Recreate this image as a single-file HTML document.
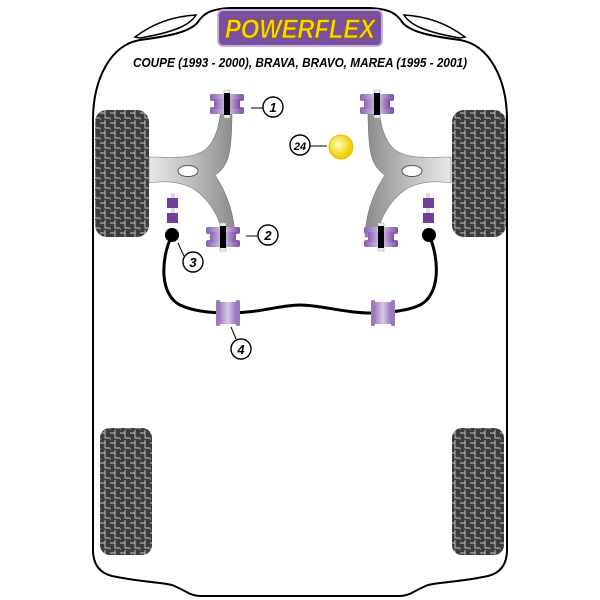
<!DOCTYPE html>
<html><head><style>
body{margin:0;background:#fff}
svg{display:block}
text{font-family:"Liberation Sans",sans-serif}
</style></head><body>
<svg width="600" height="600" viewBox="0 0 600 600" xmlns="http://www.w3.org/2000/svg">
<defs>
<pattern id="tread" width="10" height="10" patternUnits="userSpaceOnUse">
<rect width="10" height="10" fill="#3c3c3c"/>
<path d="M0 3H5V8H10M5 0V3M0 8V10" stroke="#c8c8c8" stroke-width="0.9" fill="none"/>
</pattern>
<linearGradient id="arm" x1="0" x2="1"><stop offset="0" stop-color="#e8e8e8"/><stop offset="0.5" stop-color="#bdbdbd"/><stop offset="1" stop-color="#8a8a8a"/></linearGradient>
<linearGradient id="bush" x1="0" x2="1"><stop offset="0" stop-color="#8a5fb0"/><stop offset="0.5" stop-color="#d8c8ea"/><stop offset="1" stop-color="#7a4fa0"/></linearGradient>
<radialGradient id="ball" cx="0.4" cy="0.4"><stop offset="0" stop-color="#ffffc0"/><stop offset="1" stop-color="#f0d000"/></radialGradient>
<g id="bushV">
<rect x="-3" y="-14" width="6" height="28" fill="#eee" stroke="#aaa" stroke-width="0.6"/>
<rect x="-17" y="-10" width="34" height="7" rx="2" fill="url(#bush)"/>
<rect x="-17" y="3" width="34" height="7" rx="2" fill="url(#bush)"/>
<rect x="-13" y="-5" width="26" height="10" fill="url(#bush)"/>
<rect x="-3" y="-11" width="6" height="22" fill="#000"/>
</g>
<g id="bushH">
<rect x="-12" y="-11" width="24" height="22" rx="3" fill="url(#bush)"/>
<rect x="-12" y="-13" width="4" height="26" rx="1.5" fill="#9b79bd"/>
<rect x="8" y="-13" width="4" height="26" rx="1.5" fill="#9b79bd"/>
</g>
</defs>
<!-- body outline -->
<path d="M93 550 L93 120 C93 80 110 45 140 40 C170 36 190 32 198 22 C203 14 210 9 230 8 L370 8 C390 9 397 14 402 22 C410 32 430 36 460 40 C490 45 507 80 507 120 L507 550 C507 565 500 573 488 576 C460 582 440 582 428 585 C415 590 410 596 400 596 L200 596 C190 596 185 590 172 585 C160 582 140 582 112 576 C100 573 93 565 93 550 Z" fill="none" stroke="#000" stroke-width="2"/>
<path d="M135 37 C155 22 175 16 196 15 C190 25 175 32 140 38 Z" fill="none" stroke="#000" stroke-width="1.5"/>
<path d="M465 37 C445 22 425 16 404 15 C410 25 425 32 460 38 Z" fill="none" stroke="#000" stroke-width="1.5"/>
<!-- logo -->
<rect x="218" y="10" width="164" height="36" rx="5" fill="#7a4fa0" stroke="#c8b0e0" stroke-width="2"/>
<text x="225" y="38" textLength="150" lengthAdjust="spacingAndGlyphs" font-size="27" font-weight="bold" font-style="italic" fill="#ffd700" stroke="#8a6d00" stroke-width="0.7">POWERFLEX</text>
<text x="133" y="67" textLength="334" lengthAdjust="spacingAndGlyphs" font-size="12.5" font-weight="bold" font-style="italic" fill="#000">COUPE (1993 - 2000), BRAVA, BRAVO, MAREA (1995 - 2001)</text>
<!-- wheels -->
<rect x="95" y="110" width="54" height="127" rx="12" fill="url(#tread)"/>
<rect x="452" y="110" width="54" height="127" rx="12" fill="url(#tread)"/>
<rect x="100" y="428" width="52" height="127" rx="10" fill="url(#tread)"/>
<rect x="452" y="428" width="52" height="127" rx="10" fill="url(#tread)"/>
<!-- arms -->
<g id="armL">
<path d="M221 108 L232 108 C232 150 230 165 215 175 C225 190 234 210 235 237 L223 237 C220 215 205 192 185 185 C170 180 158 182 149 183 L149 157 C170 157 190 160 205 150 C217 140 220 120 221 108 Z" fill="url(#arm)" stroke="#777" stroke-width="0.6"/>
<ellipse cx="188" cy="171" rx="10" ry="5.5" fill="#fff" stroke="#555"/>
</g>
<g transform="translate(600,0) scale(-1,1)">
<use href="#armL"/>
</g>
<use href="#bushV" x="227" y="104"/>
<use href="#bushV" x="223" y="237"/>
<use href="#bushV" x="377" y="104"/>
<use href="#bushV" x="381" y="237"/>
<!-- drop links -->
<g id="linkL">
<rect x="171" y="193" width="4" height="30" fill="#ddd"/>
<rect x="167" y="198" width="11" height="10" fill="#6d3f9a"/>
<rect x="167" y="213" width="11" height="10" fill="#6d3f9a"/>
<circle cx="172" cy="235" r="7" fill="#000"/>
</g>
<g transform="translate(601,0) scale(-1,1)"><use href="#linkL"/></g>
<!-- bar -->
<path d="M172 235 C160 260 160 295 180 305 C195 312 215 313 228 313 C260 313 280 305 300 305 C320 305 345 313 372 313 C390 313 410 310 420 305 C440 295 440 260 429 235" fill="none" stroke="#000" stroke-width="3"/>
<use href="#bushH" x="228" y="313"/>
<use href="#bushH" x="383" y="313"/>
<!-- ball -->
<circle cx="341" cy="147" r="12" fill="url(#ball)" stroke="#e0c000"/>
<!-- labels -->
<g stroke="#000" stroke-width="1.4" fill="#fff">
<circle cx="273" cy="107" r="10"/><circle cx="268" cy="235" r="10"/>
<circle cx="193" cy="262" r="10"/><circle cx="241" cy="349" r="10"/>
<circle cx="300" cy="145" r="10"/>
</g>
<g stroke="#000" stroke-width="1">
<line x1="251" y1="108" x2="263" y2="108"/><line x1="246" y1="236" x2="258" y2="236"/>
<line x1="184" y1="256" x2="178" y2="243"/><line x1="236" y1="339" x2="231" y2="327"/>
<line x1="310" y1="146" x2="327" y2="146"/>
</g>
<g font-size="13" font-weight="bold" font-style="italic" text-anchor="middle">
<text x="273" y="112">1</text><text x="268" y="240">2</text><text x="193" y="267">3</text>
<text x="241" y="354">4</text><text x="300" y="150" font-size="11">24</text>
</g>
</svg>
</body></html>
